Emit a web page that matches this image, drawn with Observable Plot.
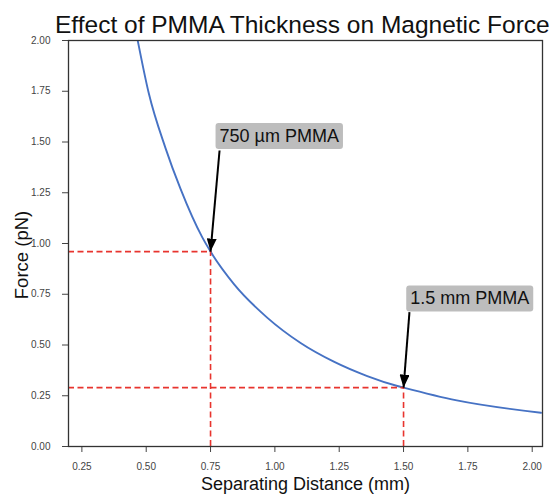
<!DOCTYPE html>
<html>
<head>
<meta charset="utf-8">
<script src="https://cdn.jsdelivr.net/npm/d3@7"></script>
<script src="https://cdn.jsdelivr.net/npm/@observablehq/plot@0.6"></script>
<style>
  html, body { margin: 0; padding: 0; background: #fff; }
  #wrap { position: relative; width: 555px; height: 494px; overflow: hidden; font-family: "Liberation Sans", Arial, sans-serif; }
  #title { position: absolute; top: 13px; left: 55px; font-size: 24.5px; line-height: 1; white-space: nowrap; color: #111; }
  #chart { position: absolute; top: 30px; left: 0; }
</style>
</head>
<body>
<div id="wrap">
  <div id="title">Effect of PMMA Thickness on Magnetic Force</div>
  <div id="chart"></div>
</div>
<script>
// Curve
const distance = [0.467, 0.510, 0.575, 0.633, 0.718, 0.750, 0.841, 0.970, 1.100, 1.229, 1.359, 1.476, 1.500, 1.707, 2.034];
const force    = [2.000, 1.740, 1.470, 1.270, 1.030, 0.960, 0.800, 0.635, 0.510, 0.418, 0.347, 0.298, 0.290, 0.227, 0.166];

// Marked points
const markX = [0.75, 1.5];
const markY = [0.96, 0.29];

// Annotations
const labels = ["750 µm PMMA", "1.5 mm PMMA"];
const labelX = [0.785, 1.526];
const labelY = [1.5, 0.7];
const tailX  = [0.785, 1.523];
const tailY  = [1.458, 0.662];

// Axes
const xTicks = [0.25, 0.5, 0.75, 1.0, 1.25, 1.5, 1.75, 2.0];
const yTicks = [0, 0.25, 0.5, 0.75, 1.0, 1.25, 1.5, 1.75, 2.0];
const xDomain = [0.198, 2.04];
const yDomain = [0, 2];
const xTitle = "Separating Distance (mm)";
const yTitle = "Force (pN)";

const curve = distance.map((d, i) => ({x: d, y: force[i]}));
const marks = markX.map((d, i) => ({x: d, y: markY[i], x0: xDomain[0], y0: yDomain[0]}));
const ann = labels.map((t, i) => ({label: t, lx: labelX[i], ly: labelY[i], tx: tailX[i], ty: tailY[i], px: markX[i], py: markY[i]}));

const fmt = d3.format(".2f");

const plot = Plot.plot({
  width: 555,
  height: 464,
  marginTop: 10,
  marginBottom: 48,
  marginLeft: 68,
  marginRight: 13,
  style: {fontFamily: "'Liberation Sans', Arial, sans-serif", fontSize: "10px", color: "#444", background: "transparent", overflow: "visible"},
  x: {domain: xDomain},
  y: {domain: yDomain},
  marks: [
    Plot.axisX({ticks: xTicks, tickFormat: fmt, tickSize: 6, tickPadding: 10, label: null}),
    Plot.axisY({ticks: yTicks, tickFormat: fmt, tickSize: 6, tickPadding: 12, label: null}),
    Plot.line(curve, {x: "x", y: "y", stroke: "#4672c4", strokeWidth: 1.9, curve: "monotone-x", clip: true}),
    Plot.ruleY(marks, {y: "y", x1: "x0", x2: "x", stroke: "#e8342e", strokeWidth: 1.6, strokeDasharray: "6,3.5"}),
    Plot.ruleX(marks, {x: "x", y1: "y0", y2: "y", stroke: "#e8342e", strokeWidth: 1.6, strokeDasharray: "6,3.5"}),
    Plot.frame({stroke: "#333", strokeWidth: 1.3}),
    Plot.text(ann, {x: "lx", y: "ly", text: "label", textAnchor: "start", lineAnchor: "bottom", fontSize: 18, fill: "#111", className: "annlabel"}),
    Plot.link(ann, {x1: "tx", y1: "ty", x2: "px", y2: "py", stroke: "#000", strokeWidth: 2, className: "annlink"}),
    Plot.text([xTitle], {frameAnchor: "bottom", lineAnchor: "bottom", dy: 43, fontSize: 18, fill: "#111"})
  ]
});

document.getElementById("chart").appendChild(plot);

const ns = "http://www.w3.org/2000/svg";

// Y axis title (rotated)
const yt = document.createElementNS(ns, "text");
yt.textContent = yTitle;
yt.setAttribute("transform", "translate(22,225) rotate(-90)");
yt.setAttribute("text-anchor", "middle");
yt.setAttribute("dy", "0.35em");
yt.setAttribute("font-size", "18.5");
yt.setAttribute("fill", "#111");
plot.appendChild(yt);

// Label boxes
plot.querySelectorAll("g.annlabel text").forEach(t => {
  const bb = t.getBBox();
  const r = document.createElementNS(ns, "rect");
  r.setAttribute("x", bb.x - 4);
  r.setAttribute("y", bb.y - 3);
  r.setAttribute("width", bb.width + 8);
  r.setAttribute("height", bb.height + 6);
  r.setAttribute("rx", 3);
  r.setAttribute("fill", "#bdbdbd");
  if (t.getAttribute("transform")) r.setAttribute("transform", t.getAttribute("transform"));
  t.parentNode.insertBefore(r, t);
});

// Filled arrow heads
const defs = document.createElementNS(ns, "defs");
const m = document.createElementNS(ns, "marker");
m.setAttribute("id", "ahead");
m.setAttribute("viewBox", "0 0 13 10");
m.setAttribute("refX", "13");
m.setAttribute("refY", "5");
m.setAttribute("markerWidth", "13");
m.setAttribute("markerHeight", "10");
m.setAttribute("markerUnits", "userSpaceOnUse");
m.setAttribute("orient", "auto");
const mp = document.createElementNS(ns, "path");
mp.setAttribute("d", "M0,0L13,5L0,10Z");
mp.setAttribute("fill", "#000");
m.appendChild(mp);
defs.appendChild(m);
plot.insertBefore(defs, plot.firstChild);
plot.querySelectorAll("g.annlink path, g.annlink line").forEach(p => p.setAttribute("marker-end", "url(#ahead)"));
</script>
</body>
</html>
